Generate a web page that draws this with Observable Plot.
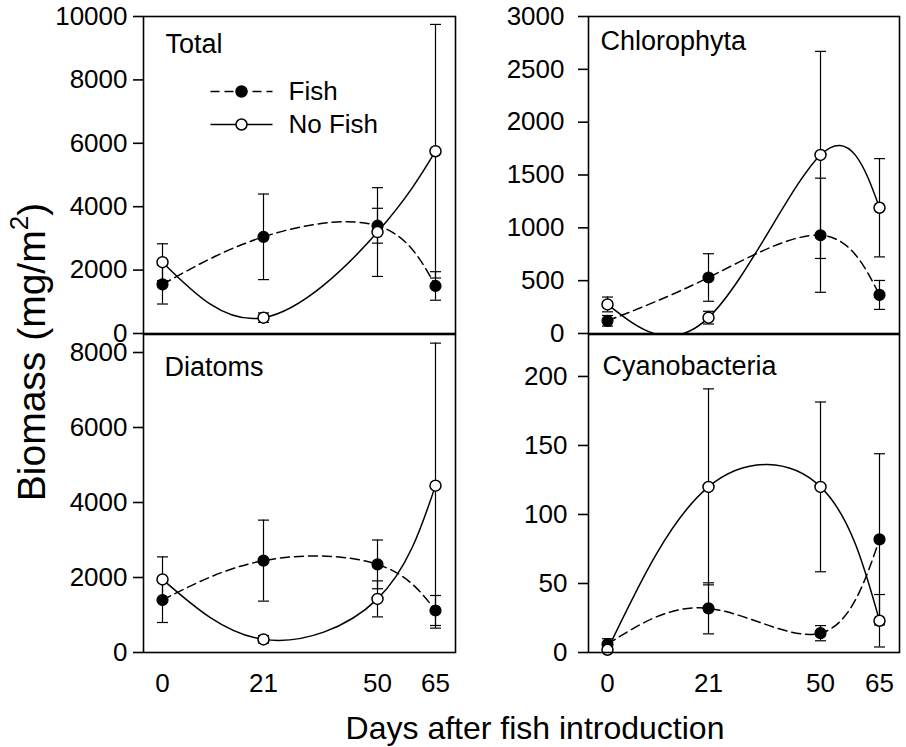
<!DOCTYPE html>
<html><head><meta charset="utf-8">
<script src="https://cdn.jsdelivr.net/npm/d3@7"></script>
<script src="https://cdn.jsdelivr.net/npm/@observablehq/plot@0.6"></script>
<style>
html,body{margin:0;padding:0;background:#fff;}
#chart{position:relative;width:906px;height:747px;overflow:hidden;font-family:"Liberation Sans",Arial,sans-serif;}
#chart svg{position:absolute;left:0;top:0;}
</style></head><body><div id="chart"></div>
<script>
// ---- data ----
const days = [0, 21, 50, 65];
const series = ["Fish", "No Fish"];

const totalFish = [1550, 3050, 3400, 1500];
const totalFishSE = [620, 1350, 550, 450];
const totalNoFish = [2250, 500, 3200, 5750];
const totalNoFishSE = [580, 150, 1400, 4000];

const chloroFish = [120, 530, 930, 365];
const chloroFishSE = [50, 225, 540, 137];
const chloroNoFish = [275, 150, 1690, 1190];
const chloroNoFishSE = [70, 60, 980, 465];

const diatomFish = [1400, 2450, 2350, 1120];
const diatomFishSE = [600, 1080, 650, 400];
const diatomNoFish = [1950, 350, 1430, 4450];
const diatomNoFishSE = [600, 100, 480, 3800];

const cyanoFish = [6, 32, 14, 82];
const cyanoFishSE = [4, 18.5, 5.5, 62];
const cyanoNoFish = [2, 120, 120, 23];
const cyanoNoFishSE = [2, 71, 61.5, 19];

const totalTicks = [0, 2000, 4000, 6000, 8000, 10000];
const chloroTicks = [0, 500, 1000, 1500, 2000, 2500, 3000];
const diatomTicks = [0, 2000, 4000, 6000, 8000];
const cyanoTicks = [0, 50, 100, 150, 200];

const W = 906, H = 747;
const leftX = [162, 263, 377, 435];
const rightX = [607, 708, 820, 879];
const capSymbol = {draw(ctx, size) { const w = Math.sqrt(size / Math.PI); ctx.moveTo(-w, 0); ctx.lineTo(w, 0); }};
const font = '"Liberation Sans", Arial, sans-serif';

const panels = [
  {label: "Total", fish: totalFish, fishSE: totalFishSE, noFish: totalNoFish, noFishSE: totalNoFishSE, ticks: totalTicks,
   ymax: 10000, box: [143, 455, 16, 333], xr: leftX, pad: 6, ldx: 22, ldy: 17, xlab: false},
  {label: "Chlorophyta", fish: chloroFish, fishSE: chloroFishSE, noFish: chloroNoFish, noFishSE: chloroNoFishSE, ticks: chloroTicks,
   ymax: 3000, box: [588, 899, 16, 333], xr: rightX, pad: 14, ldx: 12, ldy: 14, xlab: false},
  {label: "Diatoms", fish: diatomFish, fishSE: diatomFishSE, noFish: diatomNoFish, noFishSE: diatomNoFishSE, ticks: diatomTicks,
   ymax: 8480, box: [143, 455, 334, 652], xr: leftX, pad: 6, ldx: 21, ldy: 22, xlab: true},
  {label: "Cyanobacteria", fish: cyanoFish, fishSE: cyanoFishSE, noFish: cyanoNoFish, noFishSE: cyanoNoFishSE, ticks: cyanoTicks,
   ymax: 230.4, box: [588, 899, 334, 652], xr: rightX, pad: 11, ldx: 14, ldy: 21, xlab: true}
];

const chart = document.getElementById("chart");

for (const p of panels) {
  const fishRows = days.map((d, i) => ({day: d, v: p.fish[i], se: p.fishSE[i]}));
  const noRows = days.map((d, i) => ({day: d, v: p.noFish[i], se: p.noFishSE[i]}));
  const rows = fishRows.concat(noRows);
  const [l, r, t, b] = p.box;
  const svg = Plot.plot({
    width: W, height: H,
    marginLeft: l, marginRight: W - r, marginTop: t, marginBottom: H - b,
    style: {fontFamily: font, fontSize: "26px", background: "none", overflow: "visible", color: "black"},
    x: {type: "linear", domain: days, range: p.xr, axis: null, label: null},
    y: {domain: [0, p.ymax], axis: null, label: null},
    marks: [
      Plot.axisY(p.ticks, {label: null, tickSize: 10, tickPadding: p.pad, tickFormat: d3.format("d"), fontSize: 26, strokeWidth: 1.6}),
      p.xlab ? Plot.axisX(days, {label: null, tickSize: 0, tickPadding: 21, tickFormat: d3.format("d"), fontSize: 26}) : null,
      Plot.ruleX(rows, {x: "day", y1: d => d.v - d.se, y2: d => d.v + d.se, stroke: "black", strokeWidth: 1.2}),
      Plot.dot(rows, {x: "day", y: d => d.v + d.se, symbol: capSymbol, r: 5.5, stroke: "black", strokeWidth: 1.2, fill: "none"}),
      Plot.dot(rows, {x: "day", y: d => d.v - d.se, symbol: capSymbol, r: 5.5, stroke: "black", strokeWidth: 1.2, fill: "none"}),
      Plot.line(fishRows, {x: "day", y: "v", curve: "natural", stroke: "black", strokeWidth: 1.5, strokeDasharray: "9,5", clip: true}),
      Plot.line(noRows, {x: "day", y: "v", curve: "natural", stroke: "black", strokeWidth: 1.5, clip: true}),
      Plot.dot(fishRows, {x: "day", y: "v", r: 5.5, fill: "black", stroke: "black", strokeWidth: 1.2}),
      Plot.dot(noRows, {x: "day", y: "v", r: 5.5, fill: "white", stroke: "black", strokeWidth: 1.5}),
      Plot.frame({stroke: "black", strokeWidth: 1.6}),
      Plot.text([p.label], {text: d => d, frameAnchor: "top-left", textAnchor: "start", lineAnchor: "top", dx: p.ldx, dy: p.ldy, fontSize: 27, fill: "black"})
    ]
  });
  chart.appendChild(svg);
}

// legend inside the Total panel
const legend = Plot.plot({
  width: W, height: H, margin: 0,
  style: {fontFamily: font, fontSize: "26px", background: "none", overflow: "visible", color: "black"},
  x: {domain: [0, 1], range: [210, 272], axis: null, label: null},
  y: {type: "point", domain: series, range: [91, 124], padding: 0, axis: null, label: null},
  marks: [
    Plot.link(["Fish"], {x1: () => 0, x2: () => 1, y1: d => d, y2: d => d, stroke: "black", strokeWidth: 1.5, strokeDasharray: "9,5"}),
    Plot.link(["No Fish"], {x1: () => 0, x2: () => 1, y1: d => d, y2: d => d, stroke: "black", strokeWidth: 1.5}),
    Plot.dot(["Fish"], {x: () => 0.5, y: d => d, r: 5.5, fill: "black", stroke: "black"}),
    Plot.dot(["No Fish"], {x: () => 0.5, y: d => d, r: 5.5, fill: "white", stroke: "black", strokeWidth: 1.5}),
    Plot.text(series, {x: () => 1, y: d => d, text: d => d, dx: 16, textAnchor: "start", fontSize: 26, fill: "black"})
  ]
});
chart.appendChild(legend);

// axis titles
const t = d3.select(chart).append("svg").attr("width", W).attr("height", H)
  .style("font-family", font).style("overflow", "visible");
const yt = t.append("text").attr("transform", "translate(45,352) rotate(-90)")
  .attr("text-anchor", "middle").attr("font-size", 39).attr("fill", "black");
yt.append("tspan").text("Biomass (mg/m");
yt.append("tspan").attr("dy", -17).attr("font-size", 26).text("2");
yt.append("tspan").attr("dy", 17).text(")");
t.append("text").attr("x", 535).attr("y", 739).attr("text-anchor", "middle")
  .attr("font-size", 32).attr("fill", "black").text("Days after fish introduction");
</script>
</body></html>
